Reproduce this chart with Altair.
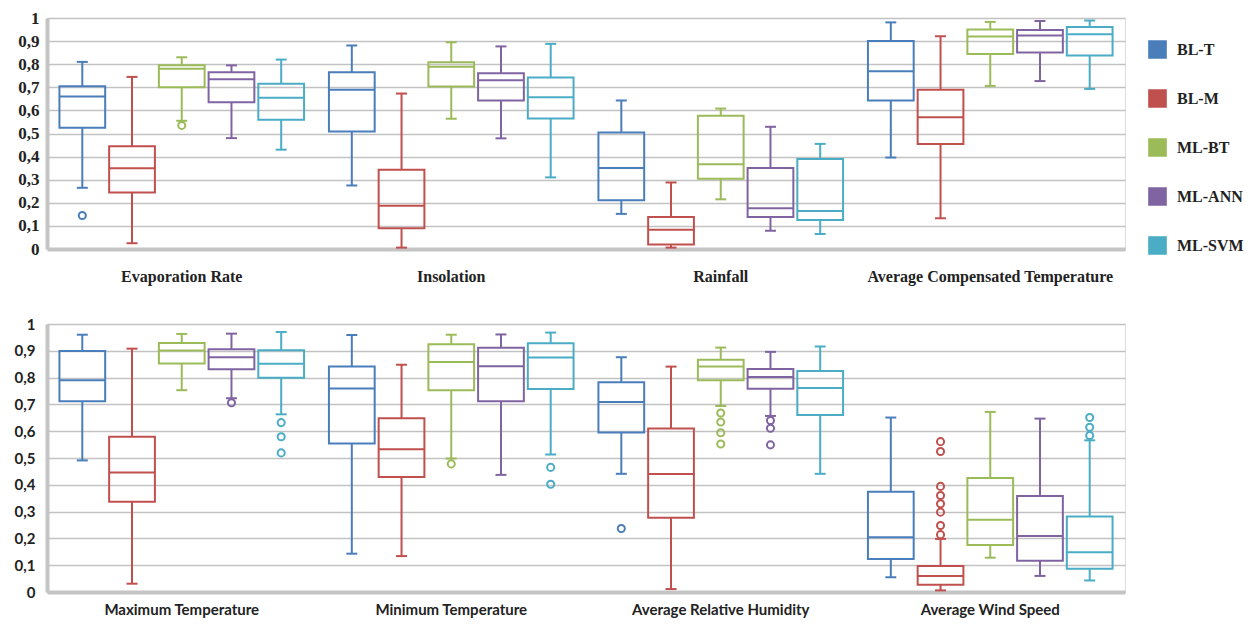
import altair as alt
import pandas as pd

models = ["BL-T", "BL-M", "ML-BT", "ML-ANN", "ML-SVM"]
colors = ["#4a7ebb", "#c0504d", "#9bbb59", "#8064a2", "#4bacc6"]

top_groups = ["Evaporation Rate", "Insolation", "Rainfall", "Average Compensated Temperature"]
bottom_groups = ["Maximum Temperature", "Minimum Temperature", "Average Relative Humidity", "Average Wind Speed"]

# values per group, in model order (BL-T, BL-M, ML-BT, ML-ANN, ML-SVM)
top_low = [[0.265, 0.025, 0.555, 0.480, 0.430],
           [0.275, 0.006, 0.564, 0.479, 0.310],
           [0.152, 0.006, 0.215, 0.079, 0.065],
           [0.396, 0.133, 0.706, 0.727, 0.693]]
top_q1 = [[0.525, 0.245, 0.700, 0.635, 0.560],
          [0.509, 0.090, 0.703, 0.643, 0.565],
          [0.211, 0.020, 0.304, 0.139, 0.126],
          [0.643, 0.455, 0.844, 0.851, 0.838]]
top_med = [[0.660, 0.350, 0.780, 0.735, 0.655],
           [0.689, 0.187, 0.789, 0.730, 0.657],
           [0.351, 0.083, 0.367, 0.176, 0.165],
           [0.770, 0.570, 0.920, 0.924, 0.930]]
top_q3 = [[0.705, 0.445, 0.795, 0.765, 0.715],
          [0.765, 0.343, 0.808, 0.761, 0.742],
          [0.504, 0.139, 0.577, 0.351, 0.390],
          [0.900, 0.689, 0.950, 0.948, 0.961]]
top_high = [[0.810, 0.745, 0.830, 0.795, 0.820],
            [0.881, 0.673, 0.895, 0.877, 0.888],
            [0.643, 0.288, 0.608, 0.529, 0.455],
            [0.981, 0.921, 0.983, 0.987, 0.989]]
top_outliers = [("Evaporation Rate", "BL-T", 0.145),
                ("Evaporation Rate", "ML-BT", 0.535)]

bottom_low = [[0.491, 0.031, 0.753, 0.723, 0.663],
              [0.143, 0.134, 0.498, 0.437, 0.513],
              [0.441, 0.011, 0.694, 0.657, 0.441],
              [0.055, 0.006, 0.128, 0.060, 0.043]]
bottom_q1 = [[0.712, 0.337, 0.853, 0.831, 0.799],
             [0.554, 0.429, 0.753, 0.712, 0.757],
             [0.595, 0.277, 0.790, 0.758, 0.660],
             [0.123, 0.027, 0.175, 0.117, 0.087]]
bottom_med = [[0.790, 0.446, 0.901, 0.876, 0.852],
              [0.759, 0.533, 0.858, 0.842, 0.875],
              [0.709, 0.440, 0.841, 0.802, 0.761],
              [0.204, 0.060, 0.270, 0.209, 0.148]]
bottom_q3 = [[0.899, 0.579, 0.929, 0.906, 0.902],
             [0.841, 0.648, 0.924, 0.911, 0.928],
             [0.783, 0.610, 0.867, 0.832, 0.825],
             [0.374, 0.097, 0.425, 0.358, 0.282]]
bottom_high = [[0.960, 0.908, 0.963, 0.964, 0.970],
               [0.959, 0.848, 0.960, 0.961, 0.968],
               [0.876, 0.841, 0.912, 0.896, 0.916],
               [0.651, 0.198, 0.672, 0.647, 0.566]]
bottom_outliers = [("Maximum Temperature", "ML-ANN", 0.706),
                   ("Maximum Temperature", "ML-SVM", 0.632),
                   ("Maximum Temperature", "ML-SVM", 0.579),
                   ("Maximum Temperature", "ML-SVM", 0.519),
                   ("Minimum Temperature", "ML-BT", 0.478),
                   ("Minimum Temperature", "ML-SVM", 0.465),
                   ("Minimum Temperature", "ML-SVM", 0.402),
                   ("Average Relative Humidity", "BL-T", 0.237),
                   ("Average Relative Humidity", "ML-BT", 0.668),
                   ("Average Relative Humidity", "ML-BT", 0.634),
                   ("Average Relative Humidity", "ML-BT", 0.594),
                   ("Average Relative Humidity", "ML-BT", 0.552),
                   ("Average Relative Humidity", "ML-ANN", 0.640),
                   ("Average Relative Humidity", "ML-ANN", 0.611),
                   ("Average Relative Humidity", "ML-ANN", 0.549),
                   ("Average Wind Speed", "BL-M", 0.561),
                   ("Average Wind Speed", "BL-M", 0.524),
                   ("Average Wind Speed", "BL-M", 0.394),
                   ("Average Wind Speed", "BL-M", 0.360),
                   ("Average Wind Speed", "BL-M", 0.329),
                   ("Average Wind Speed", "BL-M", 0.298),
                   ("Average Wind Speed", "BL-M", 0.248),
                   ("Average Wind Speed", "BL-M", 0.214),
                   ("Average Wind Speed", "ML-SVM", 0.651),
                   ("Average Wind Speed", "ML-SVM", 0.615),
                   ("Average Wind Speed", "ML-SVM", 0.584)]

y_ticks = [0, 0.1, 0.2, 0.3, 0.4, 0.5, 0.6, 0.7, 0.8, 0.9, 1]


def box_table(groups, low, q1, med, q3, high):
    rows = []
    for gi, g in enumerate(groups):
        for mi, m in enumerate(models):
            rows.append({"group": g, "model": m, "low": low[gi][mi], "q1": q1[gi][mi],
                         "med": med[gi][mi], "q3": q3[gi][mi], "high": high[gi][mi]})
    return pd.DataFrame(rows)


def panel(groups, df, out, font, ylab_size, xlab_size, ylab_pad, xlab_pad, height, show_legend):
    x = alt.X("group:N", sort=groups, title=None,
              scale=alt.Scale(paddingInner=0, paddingOuter=0),
              axis=alt.Axis(labelAngle=0, ticks=False, labelFont=font, labelFontSize=xlab_size,
                            labelFontWeight="bold", labelColor="#222222", labelPadding=xlab_pad,
                            labelLimit=400, domainColor="#c4c4c4", domainWidth=4, grid=False))
    xo = alt.XOffset("model:N", sort=models,
                     scale=alt.Scale(domain=models, paddingInner=0.08, paddingOuter=0.25))
    y_axis = alt.Axis(values=y_ticks, tickCount=40,
                      labelExpr="replace(format(datum.value, '.1~f'), '.', ',')",
                      ticks=False, labelOverlap=False, labelFont=font, labelFontSize=ylab_size,
                      labelFontWeight="bold", labelColor="#222222", labelPadding=ylab_pad,
                      gridColor="#c2c2c2", gridWidth=1.6,
                      domainColor="#c4c4c4", domainWidth=4, minExtent=32, maxExtent=32)
    yscale = alt.Scale(domain=[0, 1], nice=False)

    def Y(field):
        return alt.Y(field, scale=yscale, axis=y_axis, title=None)

    cscale = alt.Scale(domain=models, range=colors)
    legend = alt.Legend(title=None, orient="none", legendX=1101, legendY=22, symbolType="square",
                        symbolSize=270, symbolStrokeWidth=2.2, symbolFillColor="white",
                        labelFont="Liberation Serif", labelFontSize=16, labelFontWeight="bold",
                        labelColor="#222222", rowPadding=22, labelOffset=10) if show_legend else None
    color_main = alt.Color("model:N", sort=models, scale=cscale, legend=legend)
    color_plain = alt.Color("model:N", sort=models, scale=cscale, legend=None)

    base = alt.Chart(df)
    boxes = base.mark_bar(filled=False, strokeWidth=2).encode(
        x=x, xOffset=xo, y=Y("q1:Q"), y2="q3:Q", color=color_main)
    w_low = base.mark_rule(strokeWidth=2).encode(x=x, xOffset=xo, y=Y("low:Q"), y2="q1:Q", color=color_plain)
    w_high = base.mark_rule(strokeWidth=2).encode(x=x, xOffset=xo, y=Y("q3:Q"), y2="high:Q", color=color_plain)
    c_low = base.mark_tick(size=11, thickness=2, opacity=1).encode(x=x, xOffset=xo, y=Y("low:Q"), color=color_plain)
    c_high = base.mark_tick(size=11, thickness=2, opacity=1).encode(x=x, xOffset=xo, y=Y("high:Q"), color=color_plain)
    median = base.mark_tick(size=46, thickness=2, opacity=1).encode(x=x, xOffset=xo, y=Y("med:Q"), color=color_plain)
    pts = alt.Chart(out).mark_point(size=50, strokeWidth=2, filled=False, opacity=1).encode(
        x=x, xOffset=xo, y=Y("value:Q"), color=color_plain)
    return alt.layer(boxes, w_low, w_high, c_low, c_high, median, pts).properties(
        width=1078, height=height)


top_df = box_table(top_groups, top_low, top_q1, top_med, top_q3, top_high)
bottom_df = box_table(bottom_groups, bottom_low, bottom_q1, bottom_med, bottom_q3, bottom_high)
top_out = pd.DataFrame(top_outliers, columns=["group", "model", "value"])
bottom_out = pd.DataFrame(bottom_outliers, columns=["group", "model", "value"])

top = panel(top_groups, top_df, top_out, "Liberation Serif", 17, 16, 8, 19, 231, True)
bottom = panel(bottom_groups, bottom_df, bottom_out, "Lato", 15, 15, 12, 10, 268, False)

chart = alt.vconcat(top, bottom, spacing=31).properties(
    padding={"left": 5, "top": 0, "right": 0, "bottom": 0}
).configure_view(stroke="#d4d4d4", strokeWidth=3).configure(background="white")

chart.save("out.html", embed_options={"renderer": "svg", "actions": False})
